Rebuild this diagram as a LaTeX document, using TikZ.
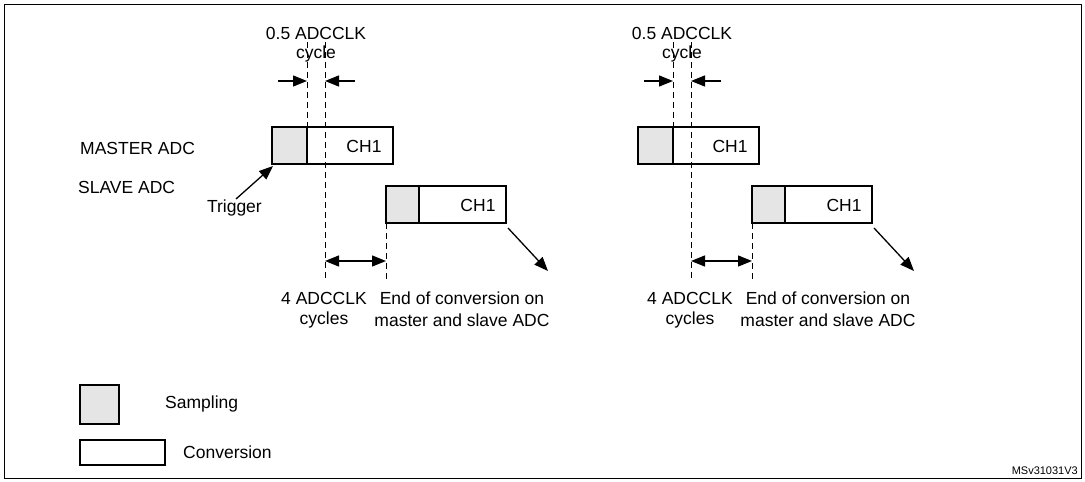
\documentclass[tikz,border=0pt]{standalone}
\usepackage{fontspec}
\setmainfont{Liberation Sans}
\usetikzlibrary{arrows.meta}
\begin{document}
\begin{tikzpicture}[x=1pt,y=-1pt,
  txt/.style={inner sep=0pt,font=\fontsize{17.5}{20}\selectfont},
  samp/.style={draw,fill=black!10,line width=1.2pt},
  conv/.style={draw,line width=1.2pt},
  dsh/.style={dash pattern=on 6pt off 4pt,line width=0.8pt},
  arr/.style={-{Triangle[length=14pt,width=11pt]},line width=1.3pt}]
\useasboundingbox (0,0) rectangle (1085,482);
\draw[line width=0.8pt] (4,4) rectangle (1081,478);
\node[txt] at (316,33) {0.5 ADCCLK};
\node[txt] at (316,54) {cycle};
\node[txt] at (682,33) {0.5 ADCCLK};
\node[txt] at (682,54) {cycle};
\node[txt,anchor=west] (mlab) at (80,148) {MASTER ADC};
\node[txt,anchor=west] (slab) at (78,187) {SLAVE ADC};
\node[txt,anchor=east] (trig) at (262,208) {Trigger};
\foreach \o/\e in {0/0,366/1}{
 \begin{scope}[xshift=\o]
  \draw[samp] (272,127) rectangle (307,164);
  \draw[conv] (307,127) rectangle (393,164);
  \node[txt] at (364,146) {CH1};
  \draw[samp] (386,186) rectangle (419,223);
  \draw[conv] (419,186) rectangle (506,223);
  \node[txt] at (478,205) {CH1};
  \draw[dsh] (307,42) -- (307,127);
  \draw[dsh] (325,42) -- (325,278);
  \draw[dsh] (386,223) -- (386,282);
  \coordinate (a\e) at (278,81); \coordinate (b\e) at (307,81);
  \coordinate (c\e) at (355,81); \coordinate (d\e) at (325,81);
  \draw[arr] (a\e) -- (b\e);
  \draw[arr] (c\e) -- (d\e);
  \coordinate (l\e) at (325,261); \coordinate (r\e) at (386,261);
  \draw[arr,{Triangle[length=14pt,width=11pt]}-{Triangle[length=14pt,width=11pt]}] (l\e) -- (r\e);
  \coordinate (e\e) at (508,228); \coordinate (f\e) at (548,271);
  \draw[arr] (e\e) -- (f\e);
  \node[txt] at (324,298) {4 ADCCLK};
  \node[txt] at (324,320) {cycles};
  \node[txt] at (462,298) {End of conversion on};
  \node[txt] at (462,320) {master and slave ADC};
 \end{scope}}
\coordinate (t0) at (236,199); \coordinate (t1) at (273,166);
\draw[arr] (t0) -- (t1);
\draw[samp] (80,385) rectangle (119,424);
\node[txt,anchor=west] at (165,404) {Sampling};
\draw[conv] (80,440) rectangle (165,465);
\node[txt,anchor=west] at (183,452) {Conversion};
\node[inner sep=0pt,anchor=south east,font=\fontsize{11}{12}\selectfont] at (1078,475) {MSv31031V3};
\end{tikzpicture}
\end{document}
